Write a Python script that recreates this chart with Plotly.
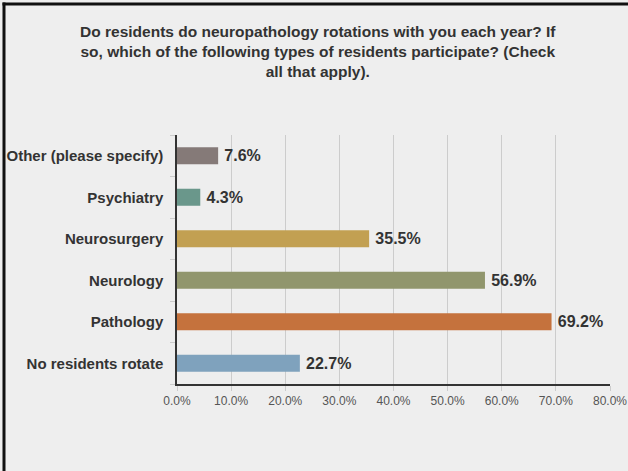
import plotly.graph_objects as go

categories = ["Other (please specify)", "Psychiatry", "Neurosurgery", "Neurology", "Pathology", "No residents rotate"]
values = [7.6, 4.3, 35.5, 56.9, 69.2, 22.7]
colors = ["#857a78", "#6a978b", "#c2a052", "#91966d", "#c5723d", "#7fa2bd"]
x_ticks = [0, 10, 20, 30, 40, 50, 60, 70, 80]

title_text = ("Do residents do neuropathology rotations with you each year? If<br>"
              "so, which of the following types of residents participate? (Check<br>"
              "all that apply).")

L, R, T, B = 177, 18, 135, 87
W, H = 628, 471
pw, ph = W - L - R, H - T - B
FONT = "Liberation Sans, Arial, sans-serif"

def px_x(p):
    return (p - L) / pw

def px_y(p):
    return (H - B - p) / ph

fig = go.Figure(go.Bar(
    y=categories, x=values, orientation="h",
    marker=dict(color=colors, line=dict(width=0)),
    width=0.41,
    text=[f"<b>\u2009{v:.1f}%</b>" for v in values],
    textposition="outside",
    textfont=dict(family=FONT, size=16, color="#333333"),
    cliponaxis=False,
))

fig.update_layout(
    width=W, height=H,
    margin=dict(l=L, r=R, t=T, b=B, autoexpand=False),
    paper_bgcolor="#eeeeee", plot_bgcolor="#eeeeee",
    showlegend=False,
    title=dict(text="<b>" + title_text + "</b>", x=0.506, xref="container", xanchor="center",
               y=1 - 37 / H, yref="container", yanchor="top",
               font=dict(family=FONT, size=15.5, color="#333333")),
    font=dict(family=FONT, color="#333333"),
    xaxis=dict(range=[0, 80], tickvals=x_ticks, ticktext=[f"{t:.1f}%" for t in x_ticks],
               showgrid=True, gridcolor="#cccccc", gridwidth=1, zeroline=False,
               showline=True, linecolor="#333333", linewidth=1.5,
               ticks="outside", ticklen=5, tickcolor="#cccccc",
               tickfont=dict(size=12, color="#555555")),
    yaxis=dict(autorange="reversed", showgrid=False, zeroline=False,
               showline=True, linecolor="#333333", linewidth=1.5,
               ticks="outside", ticklen=5, tickcolor="#cccccc", tickson="boundaries",
               tickvals=categories, ticktext=[f"<b>{c}</b>" for c in categories],
               tickfont=dict(size=15, color="#333333", family=FONT),
               ticklabelstandoff=9),
    shapes=[
        dict(type="line", xref="paper", yref="paper", x0=px_x(4), x1=px_x(4),
             y0=px_y(2.5), y1=px_y(H + 10), line=dict(color="#111111", width=3)),
        dict(type="line", xref="paper", yref="paper", x0=px_x(2.5), x1=px_x(W + 10),
             y0=px_y(4), y1=px_y(4), line=dict(color="#111111", width=3)),
    ],
)

fig.write_html("out.html", config={"displayModeBar": False},
               post_script="document.body.style.margin='0';")
